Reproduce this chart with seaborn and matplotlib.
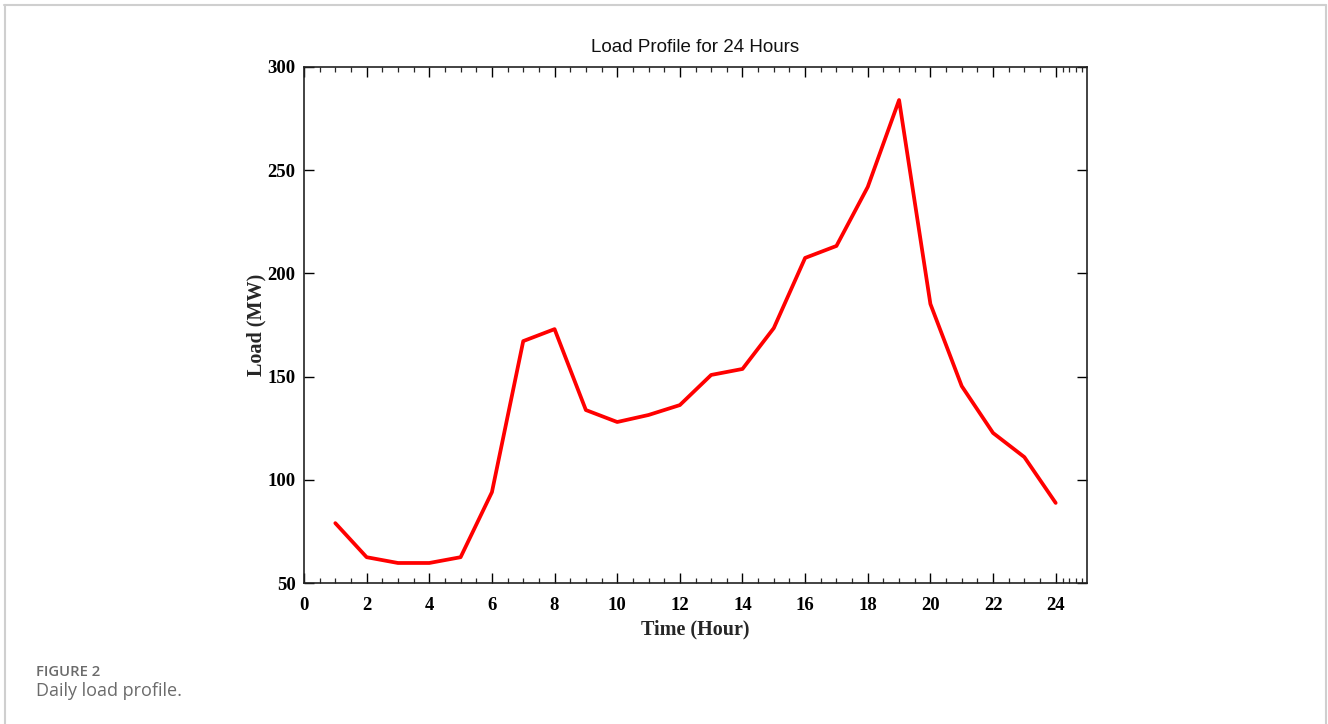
import numpy as np
import pandas as pd
import matplotlib
matplotlib.use("Agg")
import matplotlib.pyplot as plt
from matplotlib.ticker import FixedLocator
from matplotlib.lines import Line2D
import seaborn as sns

hours = list(range(1, 25))
load_mw = [79, 62.5, 59.7, 59.7, 62.5, 94, 167.2, 173, 133.8, 128, 131.4, 136.2,
           150.8, 153.7, 173.5, 207.5, 213.3, 241.9, 284, 185.2, 145.4, 122.7, 111, 88.8]
x_ticks = [0, 2, 4, 6, 8, 10, 12, 14, 16, 18, 20, 22, 24]
y_ticks = [50, 100, 150, 200, 250, 300]

df = pd.DataFrame({"Hour": hours, "Load": load_mw})

sns.set_style("ticks")
plt.rcParams["font.family"] = ["Liberation Serif", "DejaVu Serif"]

fig = plt.figure(figsize=(13.28, 7.24), dpi=100)
ax = fig.add_axes([304/1328, 1-583/724, (1087-304)/1328, (583-67)/724])

sns.lineplot(data=df, x="Hour", y="Load", ax=ax, color="#ff0000", linewidth=2.7)

ax.set_xlim(0, 25)
ax.set_ylim(50, 300)
ax.set_xticks(x_ticks)
ax.set_yticks(y_ticks)
minor = [v * 0.5 for v in range(0, 49)] + [24.22, 24.44, 24.64, 24.83]
ax.xaxis.set_minor_locator(FixedLocator(minor))
ax.tick_params(axis="both", which="major", direction="in", length=7.5, width=1.0,
               top=True, right=True, labelsize=13.5, colors="black")
ax.tick_params(axis="x", which="major", pad=10)
ax.tick_params(axis="y", which="major", pad=6)
ax.tick_params(axis="x", which="minor", direction="in", length=3.5, width=0.9, top=True)
for lbl in ax.get_xticklabels() + ax.get_yticklabels():
    lbl.set_fontweight("bold")
for s in ax.spines.values():
    s.set_visible(True)
    s.set_linewidth(1.2)
    s.set_color("#222222")

ax.set_xlabel("Time (Hour)", fontsize=14.5, fontweight="bold", labelpad=4)
ax.set_ylabel("Load (MW)", fontsize=14.5, fontweight="bold", labelpad=1)
ax.set_title("Load Profile for 24 Hours", fontsize=13.5, family="Liberation Sans",
             color="#111111", pad=11)

# outer border (top, left, right)
border_color = "#cfcfcf"
fig.add_artist(Line2D([4/1328, 1326/1328], [1-4.5/724, 1-4.5/724], transform=fig.transFigure,
                      color=border_color, linewidth=1.5))
fig.add_artist(Line2D([4.5/1328, 4.5/1328], [0, 1-4.5/724], transform=fig.transFigure,
                      color=border_color, linewidth=1.5))
fig.add_artist(Line2D([1325.5/1328, 1325.5/1328], [0, 1-4.5/724], transform=fig.transFigure,
                      color=border_color, linewidth=1.5))

fig.text(36/1328, 1-672/724, "FIGURE 2", fontsize=10.7, family="Open Sans",
         fontweight="semibold", color="#6b6b6b", va="center", ha="left")
fig.text(36/1328, 1-691/724, "Daily load profile.", fontsize=13, family="Open Sans",
         color="#6b6b6b", va="center", ha="left")

fig.savefig("out.png", dpi=100, facecolor="white")
